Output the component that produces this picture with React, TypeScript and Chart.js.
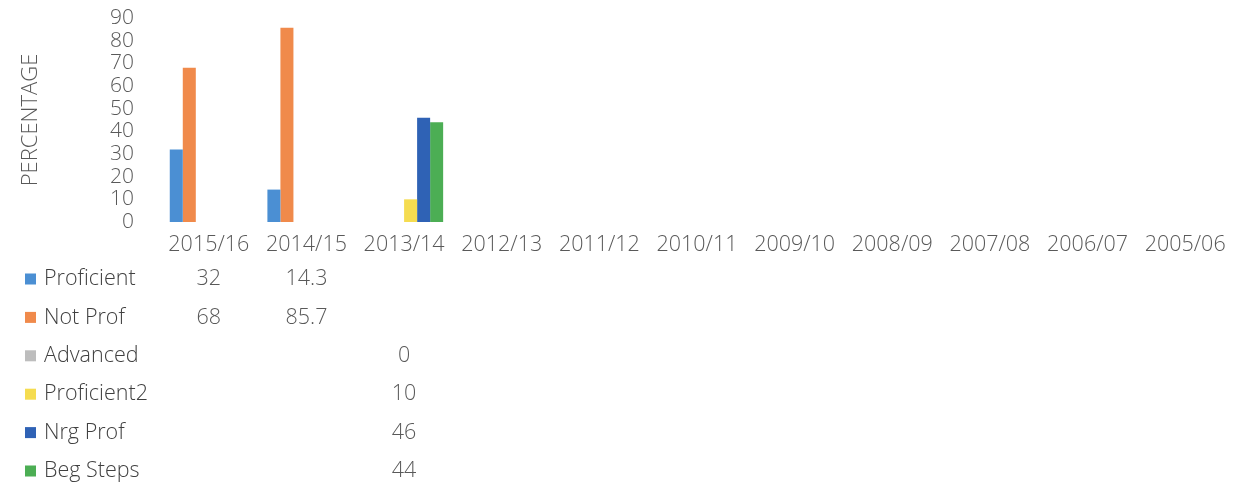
import React, { useEffect, useRef } from "react";
import { Chart, registerables } from "chart.js";

Chart.register(...registerables);

const categories = ["2015/16", "2014/15", "2013/14", "2012/13", "2011/12", "2010/11", "2009/10", "2008/09", "2007/08", "2006/07", "2005/06"];
const seriesNames = ["Proficient", "Not Prof", "Advanced", "Proficient2", "Nrg Prof", "Beg Steps"];
const proficient = [32, 14.3, null, null, null, null, null, null, null, null, null];
const notProf = [68, 85.7, null, null, null, null, null, null, null, null, null];
const advanced = [null, null, 0, null, null, null, null, null, null, null, null];
const proficient2 = [null, null, 10, null, null, null, null, null, null, null, null];
const nrgProf = [null, null, 46, null, null, null, null, null, null, null, null];
const begSteps = [null, null, 44, null, null, null, null, null, null, null, null];
const seriesColors = ["#4b8fd3", "#f08a4b", "#bdbdbd", "#f5dc50", "#2f62b5", "#4cae54"];
const yTicks = [0, 10, 20, 30, 40, 50, 60, 70, 80, 90];

const FONT = "'Open Sans', sans-serif";

export default function App() {
  const ref = useRef<HTMLCanvasElement>(null);
  useEffect(() => {
    const allSeries = [proficient, notProf, advanced, proficient2, nrgProf, begSteps];
    const tablePlugin = {
      id: "dataTable",
      afterDraw(chart: any) {
        const ctx = chart.ctx;
        const xs = chart.scales.x;
        ctx.save();
        ctx.font = `300 21.5px ${FONT}`;
        ctx.textBaseline = "middle";
        const rowY0 = 279;
        const rowStep = 38.4;
        allSeries.forEach((vals, r) => {
          const y = rowY0 + r * rowStep;
          ctx.fillStyle = seriesColors[r];
          ctx.fillRect(25, y - 5.5, 11, 11);
          ctx.fillStyle = "#404040";
          ctx.textAlign = "left";
          ctx.fillText(seriesNames[r], 44, y);
          ctx.textAlign = "center";
          ctx.fillStyle = "#595959";
          vals.forEach((v, i) => {
            if (v !== null && v !== undefined) {
              ctx.fillText(String(v), xs.getPixelForValue(i), y);
            }
          });
        });
        ctx.restore();
      },
    };
    const chart = new Chart(ref.current!, {
      type: "bar",
      data: {
        labels: categories,
        datasets: allSeries.map((d, i) => ({
          label: seriesNames[i],
          data: d as any,
          backgroundColor: seriesColors[i],
          borderWidth: 0,
          categoryPercentage: 0.8,
          barPercentage: 1,
        })),
      },
      options: {
        animation: false,
        responsive: false,
        maintainAspectRatio: false,
        layout: { padding: { left: 0, right: 10, top: 18, bottom: 230 } },
        plugins: { legend: { display: false }, tooltip: { enabled: false } },
        scales: {
          x: {
            grid: { display: false, drawTicks: false },
            border: { display: false },
            ticks: { color: "#595959", font: { family: FONT, size: 21.5, weight: "300" }, padding: 10, maxRotation: 0, autoSkip: false },
            afterFit: (s: any) => { s.height = 34; s.paddingTop = 0; s.paddingBottom = 0; },
          },
          y: {
            min: 0,
            max: 90,
            afterBuildTicks: (s: any) => { s.ticks = yTicks.map((v) => ({ value: v })); },
            grid: { display: false, drawTicks: false },
            border: { display: false },
            ticks: { color: "#595959", font: { family: FONT, size: 21, weight: "300", lineHeight: 1 }, padding: 26, autoSkip: false },
            title: { display: true, text: "PERCENTAGE", color: "#595959", font: { family: FONT, size: 22, weight: "300" }, padding: { top: 18, bottom: 0 } },
            afterFit: (s: any) => { s.width = 160; s.paddingTop = 0; s.paddingBottom = 0; },
          },
        },
      },
      plugins: [tablePlugin],
    });
    return () => chart.destroy();
  }, []);
  return (
    <div style={{ position: "absolute", left: 0, top: 0, width: 1244, height: 486, background: "#fff" }}>
      <canvas ref={ref} width={1244} height={486} style={{ display: "block" }} />
    </div>
  );
}
